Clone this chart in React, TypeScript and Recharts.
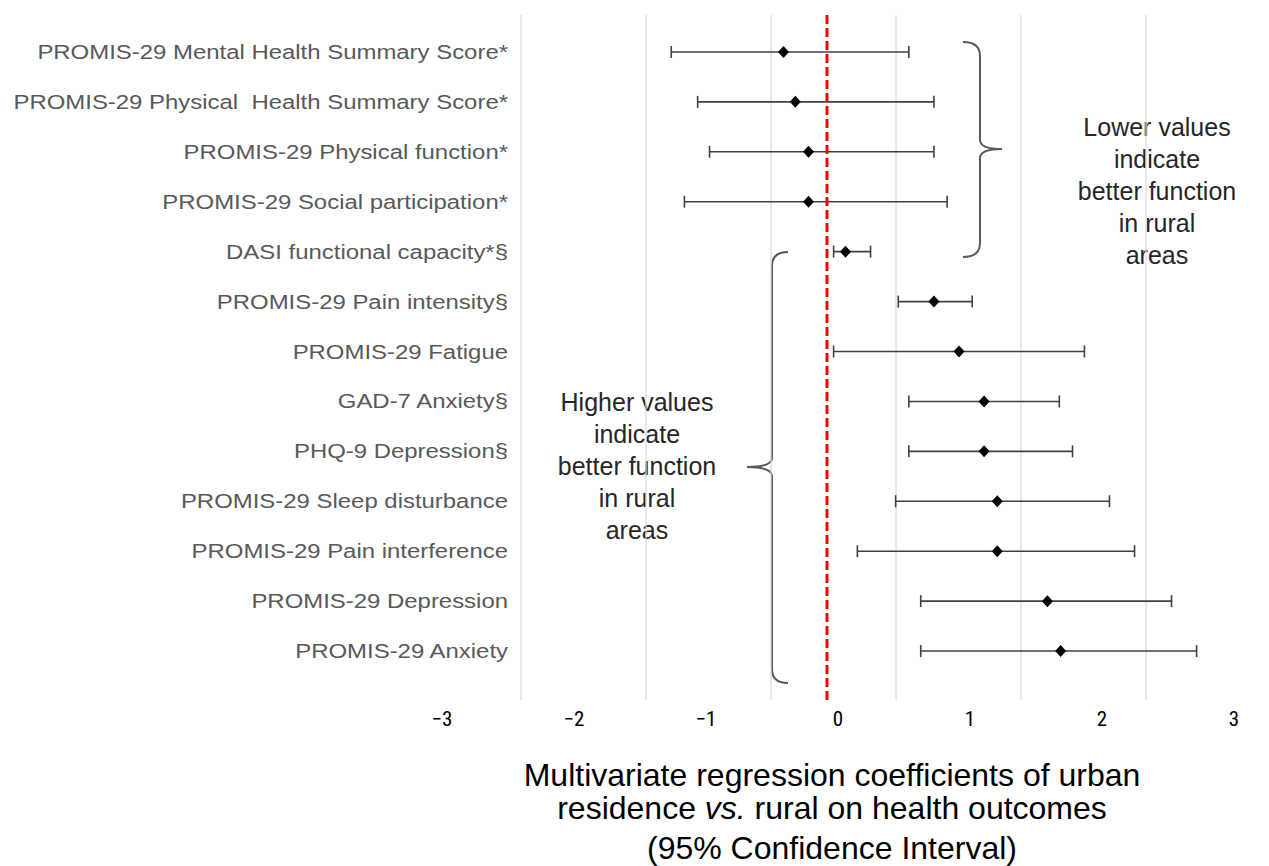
import React from 'react';
import {
  ScatterChart,
  Scatter,
  XAxis,
  YAxis,
  ReferenceLine,
  ErrorBar,
  Customized,
} from 'recharts';

// ---------- data ----------
const categories = [
  'PROMIS-29 Mental Health Summary Score*',
  'PROMIS-29 Physical\u00A0 Health Summary Score*',
  'PROMIS-29 Physical function*',
  'PROMIS-29 Social participation*',
  'DASI functional capacity*§',
  'PROMIS-29 Pain intensity§',
  'PROMIS-29 Fatigue',
  'GAD-7 Anxiety§',
  'PHQ-9 Depression§',
  'PROMIS-29 Sleep disturbance',
  'PROMIS-29 Pain interference',
  'PROMIS-29 Depression',
  'PROMIS-29 Anxiety',
];
const estimates = [-0.33, -0.24, -0.14, -0.14, 0.14, 0.81, 1.0, 1.19, 1.19, 1.29, 1.29, 1.67, 1.77];
const ciLower = [-1.18, -0.98, -0.89, -1.08, 0.05, 0.54, 0.05, 0.62, 0.62, 0.52, 0.23, 0.71, 0.71];
const ciUpper = [0.62, 0.81, 0.81, 0.91, 0.33, 1.1, 1.95, 1.76, 1.86, 2.14, 2.33, 2.61, 2.8];
const xTicks = [-3, -2, -1, 0, 1, 2, 3];
const xTickLabels = ['\u22123', '\u22122', '\u22121', '0', '1', '2', '3'];
// vertical gridlines of the original (offset from the labelled ticks)
const gridLines = [-2.318, -1.371, -0.424, 0.523, 1.47, 2.417];
const rowTicks = categories.map((_, i) => i);

const rows = categories.map((name, i) => ({
  name,
  idx: i,
  est: estimates[i],
  err: [estimates[i] - ciLower[i], ciUpper[i] - estimates[i]],
}));

const upperNote = ['Lower values', 'indicate', 'better function', 'in rural', 'areas'];
const lowerNote = ['Higher values', 'indicate', 'better function', 'in rural', 'areas'];

// ---------- style ----------
const SANS = '"Liberation Sans", Arial, sans-serif';
const NARROW = '"Liberation Sans Narrow", "Roboto Condensed", "DejaVu Sans Condensed", "Liberation Sans", Arial, sans-serif';

const Diamond = (props: any) => {
  const { cx, cy } = props;
  if (cx == null || cy == null) return null;
  return (
    <polygon
      points={`${cx},${cy - 6} ${cx + 5.5},${cy} ${cx},${cy + 6} ${cx - 5.5},${cy}`}
      fill="#000"
    />
  );
};

const CategoryTick = (props: any) => {
  const { x, y, payload } = props;
  return (
    <g transform={`translate(${x + 77},${y}) scale(1.14,1)`}>
      <text
        x={0}
        y={0}
        textAnchor="end"
        dominantBaseline="central"
        fontSize={21}
        fontFamily={SANS}
        fill="#595959"
      >
        {categories[payload.value]}
      </text>
    </g>
  );
};

const Annotations = () => (
  <g>
    {/* brace for upper group */}
    <path
      d="M 963 42 Q 980 42 980 56 L 980 140 Q 980 149 1002 149 Q 980 149 980 158 L 980 243 Q 980 257 963 257"
      fill="none"
      stroke="#595959"
      strokeWidth={2}
    />
    <text x={1157} y={136} textAnchor="middle" fontSize={25} fontFamily={SANS} fill="#262626">
      {upperNote.map((t, i) => (
        <tspan key={i} x={1157} dy={i === 0 ? 0 : 32}>
          {t}
        </tspan>
      ))}
    </text>
    {/* brace for lower group */}
    <path
      d="M 788 252 Q 772 252 772 266 L 772 458 Q 772 467 747 467 Q 772 467 772 476 L 772 669 Q 772 683 788 683"
      fill="none"
      stroke="#595959"
      strokeWidth={2}
    />
    <text x={637} y={411} textAnchor="middle" fontSize={25} fontFamily={SANS} fill="#262626">
      {lowerNote.map((t, i) => (
        <tspan key={i} x={637} dy={i === 0 ? 0 : 32}>
          {t}
        </tspan>
      ))}
    </text>
    {/* axis title */}
    <text x={832} textAnchor="middle" fontSize={32} fontFamily={SANS} fill="#000">
      <tspan x={832} y={786}>Multivariate regression coefficients of urban</tspan>
      <tspan x={832} y={819}>
        residence <tspan fontStyle="italic">vs.</tspan> rural on health outcomes
      </tspan>
      <tspan x={832} y={859}>(95% Confidence Interval)</tspan>
    </text>
  </g>
);

export default function App() {
  return (
    <div style={{ position: 'absolute', left: 0, top: 0, background: '#fff' }}>
      <ScatterChart
        width={1269}
        height={866}
        margin={{ top: 15, right: 46, bottom: 136, left: 430 }}
      >
        {gridLines.map((g) => (
          <ReferenceLine key={g} x={g} stroke="#d9d9d9" strokeWidth={1.2} />
        ))}
        <XAxis
          type="number"
          dataKey="est"
          domain={[-3, 3]}
          ticks={xTicks}
          allowDataOverflow
          tickFormatter={(v: number) => xTickLabels[xTicks.indexOf(v)]}
          axisLine={false}
          tickLine={false}
          tickSize={0}
          tickMargin={11}
          height={30}
          tick={{ fill: '#000', fontSize: 21, dx: 11, fontFamily: NARROW }}
        />
        <YAxis
          type="number"
          dataKey="idx"
          domain={[-0.74, 12.98]}
          ticks={rowTicks}
          allowDataOverflow
          reversed
          width={1}
          axisLine={false}
          tickLine={false}
          tickSize={0}
          tickMargin={0}
          interval={0}
          tick={<CategoryTick />}
        />
        <Scatter data={rows} shape={<Diamond />} isAnimationActive={false}>
          <ErrorBar
            dataKey="err"
            direction="x"
            width={6}
            stroke="#404040"
            strokeWidth={1.6}
            isAnimationActive={false}
          />
        </Scatter>
        <ReferenceLine x={0} stroke="#ff0000" strokeWidth={3} strokeDasharray="9 4" />
        <Customized component={<Annotations />} />
      </ScatterChart>
    </div>
  );
}
